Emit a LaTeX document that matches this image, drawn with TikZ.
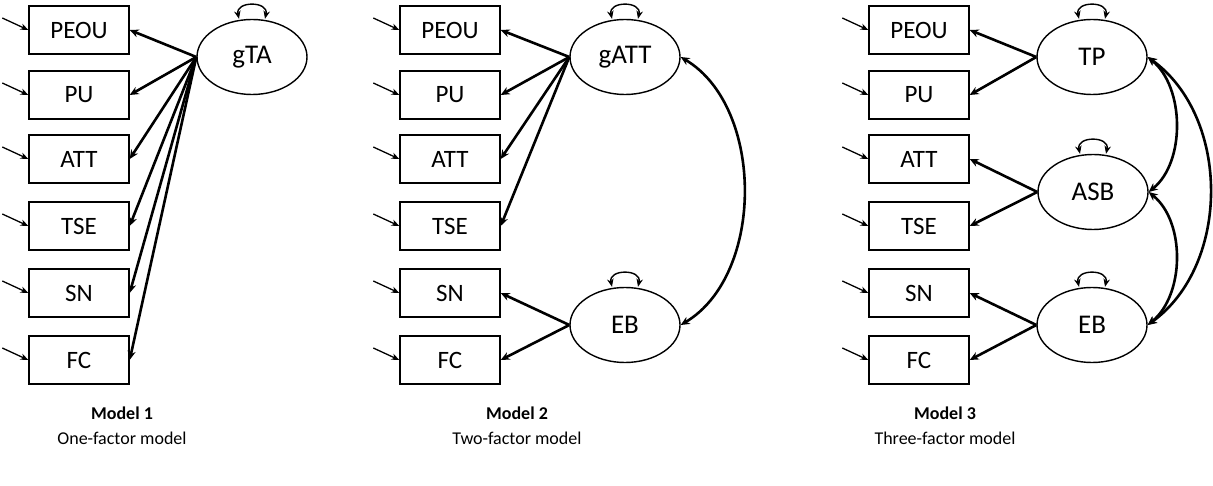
\documentclass[tikz,border=0pt]{standalone}
\usepackage{fontspec}
\setmainfont{Carlito}
\usetikzlibrary{arrows.meta,shapes.geometric}

\begin{document}
\begin{tikzpicture}[ x=1pt, y=-1pt,
	obs/.style={draw, line width=1.4pt, minimum width=100pt, minimum height=48pt,
		inner sep=0pt, font=\fontsize{25}{27}\selectfont},
	lat/.style={draw, ellipse, line width=1.4pt, minimum width=110pt, minimum height=75pt,
		inner sep=0pt, font=\fontsize{27}{29}\selectfont},
	load/.style={-{Stealth[length=9pt,width=8pt]}, line width=2.6pt},
	err/.style={-{Stealth[length=8pt,width=6.5pt]}, line width=1.3pt},
	var/.style={{Stealth[length=8pt,width=6.5pt]}-{Stealth[length=8pt,width=6.5pt]}, line width=1.4pt},
	cov/.style={{Stealth[length=9pt,width=8pt]}-{Stealth[length=9pt,width=8pt]}, line width=2.6pt},
	capt/.style={font=\fontsize{18}{21}\selectfont} ]
	\useasboundingbox (0,0) rectangle (1213,486);

	% indicators and their error terms
	\foreach \m/\x in {a/79, b/450, c/919}
		\foreach \lab/\y in {PEOU/30, PU/95, ATT/159, TSE/226, SN/293, FC/360} {
			\node [obs] (\m\lab) at (\x,\y) {\lab};
			\coordinate (\m\lab e) at ([shift={(-26,-12)}]\m\lab.west);
			\draw [err] (\m\lab e) -- (\m\lab.west);
		}

	% factors
	\node [lat] (gTA) at (252,57) {gTA};
	\node [lat] (gATT) at (625,57) {gATT};
	\node [lat] (EBb) at (625,325) {EB};
	\node [lat] (TP) at (1092,57) {TP};
	\node [lat] (ASB) at (1093,192) {ASB};
	\node [lat] (EBc) at (1092,325) {EB};

	% variances
	\foreach \f in {gTA, gATT, EBb, TP, ASB, EBc}
		\draw [var] ([xshift=-13pt]\f.north) .. controls +(-4,-18) and +(4,-18) .. ([xshift=13pt]\f.north);

	% loadings
	\foreach \t in {PEOU, PU, ATT, TSE, SN, FC}
		\draw [load] (gTA.west) -- (a\t.east);
	\foreach \t in {PEOU, PU, ATT, TSE}
		\draw [load] (gATT.west) -- (b\t.east);
	\draw [load] (EBb.west) -- (bSN.east);
	\draw [load] (EBb.west) -- (bFC.east);
	\draw [load] (TP.west) -- (cPEOU.east);
	\draw [load] (TP.west) -- (cPU.east);
	\draw [load] (ASB.west) -- (cATT.east);
	\draw [load] (ASB.west) -- (cTSE.east);
	\draw [load] (EBc.west) -- (cSN.east);
	\draw [load] (EBc.west) -- (cFC.east);

	% covariances
	\draw [cov] (gATT.east) .. controls +(84,50) and +(84,-50) .. (EBb.east);
	\draw [cov] (TP.east) .. controls +(37,30) and +(37,-30) .. (ASB.east);
	\draw [cov] (ASB.east) .. controls +(37,30) and +(37,-30) .. (EBc.east);
	\draw [cov] (TP.east) .. controls +(83,60) and +(83,-60) .. (EBc.east);

	% captions
	\node [capt, font=\bfseries\fontsize{18}{21}\selectfont] (m1) at (122,413) {Model 1};
	\node [capt] (d1) at (122,438) {One-factor model};
	\node [capt, font=\bfseries\fontsize{18}{21}\selectfont] (m2) at (517,413) {Model 2};
	\node [capt] (d2) at (517,438) {Two-factor model};
	\node [capt, font=\bfseries\fontsize{18}{21}\selectfont] (m3) at (945,413) {Model 3};
	\node [capt] (d3) at (945,438) {Three-factor model};
\end{tikzpicture}
\end{document}
